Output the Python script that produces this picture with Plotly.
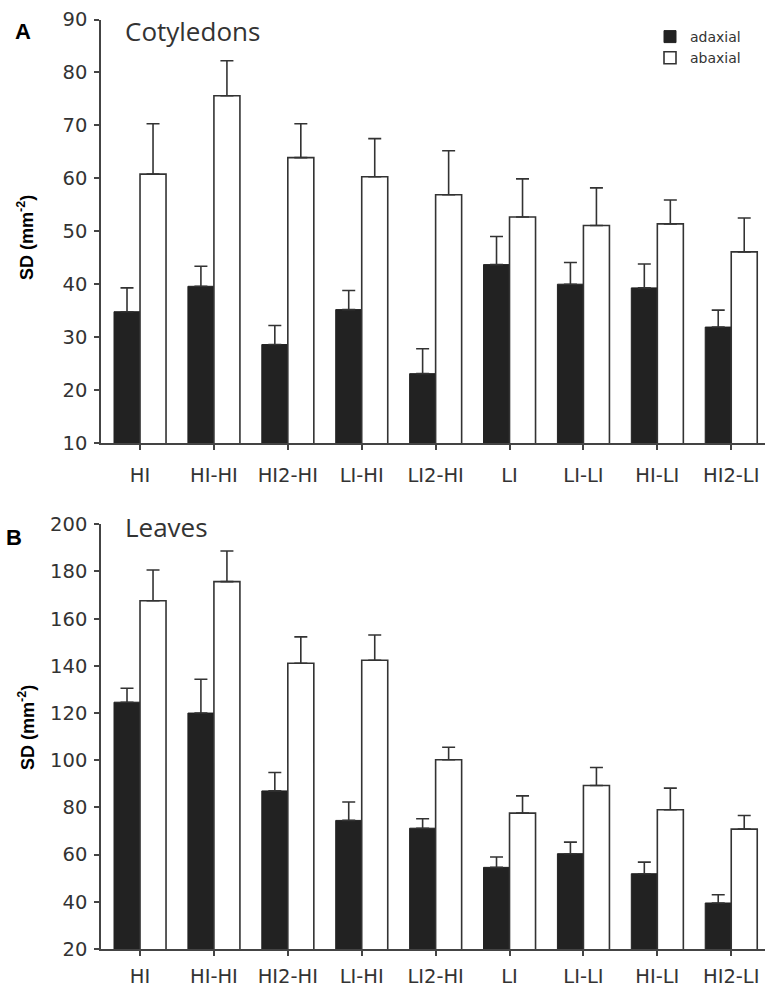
import plotly.graph_objects as go

categories = ["HI", "HI-HI", "HI2-HI", "LI-HI", "LI2-HI", "LI", "LI-LI", "HI-LI", "HI2-LI"]

cot_adaxial = [34.8, 39.6, 28.6, 35.2, 23.1, 43.7, 40.0, 39.3, 31.9]
cot_adaxial_err = [4.5, 3.8, 3.6, 3.6, 4.7, 5.3, 4.1, 4.5, 3.2]
cot_abaxial = [60.8, 75.6, 63.9, 60.3, 56.9, 52.7, 51.1, 51.4, 46.1]
cot_abaxial_err = [9.5, 6.6, 6.4, 7.2, 8.3, 7.2, 7.1, 4.5, 6.4]

leaf_adaxial = [124.6, 120.0, 87.0, 74.5, 71.2, 54.6, 60.4, 51.9, 39.5]
leaf_adaxial_err = [5.9, 14.3, 7.8, 7.8, 4.0, 4.4, 4.9, 4.9, 3.5]
leaf_abaxial = [167.6, 175.7, 141.1, 142.4, 100.2, 77.6, 89.3, 79.0, 70.8]
leaf_abaxial_err = [13.0, 13.0, 11.2, 10.7, 5.3, 7.3, 7.6, 9.2, 5.8]

cot_ticks = [10, 20, 30, 40, 50, 60, 70, 80, 90]
leaf_ticks = [20, 40, 60, 80, 100, 120, 140, 160, 180, 200]

DARK = "#222222"
AX = "#444444"
TXT = "#333333"

def err(arr):
    return dict(type="data", array=arr, arrayminus=[0] * len(arr), symmetric=False,
                color=TXT, thickness=1.6, width=6.5)

fig = go.Figure()
fig.add_trace(go.Bar(x=categories, y=cot_adaxial, name="adaxial", error_y=err(cot_adaxial_err),
                     marker=dict(color=DARK, line=dict(color=DARK, width=1)),
                     xaxis="x", yaxis="y", legendgroup="ad"))
fig.add_trace(go.Bar(x=categories, y=cot_abaxial, name="abaxial", error_y=err(cot_abaxial_err),
                     marker=dict(color="white", line=dict(color=TXT, width=1.6)),
                     xaxis="x", yaxis="y", legendgroup="ab"))
fig.add_trace(go.Bar(x=categories, y=leaf_adaxial, name="adaxial", error_y=err(leaf_adaxial_err),
                     marker=dict(color=DARK, line=dict(color=DARK, width=1)),
                     xaxis="x2", yaxis="y2", showlegend=False, legendgroup="ad"))
fig.add_trace(go.Bar(x=categories, y=leaf_abaxial, name="abaxial", error_y=err(leaf_abaxial_err),
                     marker=dict(color="white", line=dict(color=TXT, width=1.6)),
                     xaxis="x2", yaxis="y2", showlegend=False, legendgroup="ab"))

H = 991.0
W = 765.0
xdom = [101 / W, 1.0]
xrange_ = [-0.528, 8.457]
tickfont = dict(family="DejaVu Sans", size=19.5, color=TXT)

common_x = dict(domain=xdom, range=xrange_, showline=True, linecolor=AX, linewidth=1.6,
                ticks="outside", ticklen=5, tickwidth=1.6, tickcolor=AX, tickfont=tickfont,
                showgrid=False, zeroline=False, automargin=False)
common_y = dict(showline=True, linecolor=AX, linewidth=1.6, ticks="outside", ticklen=5,
                tickwidth=1.6, tickcolor=AX, tickfont=tickfont, showgrid=False, zeroline=False,
                automargin=False, ticklabelstandoff=3)

fig.update_layout(
    width=765, height=991,
    margin=dict(l=0, r=0, t=0, b=0, autoexpand=False),
    paper_bgcolor="white", plot_bgcolor="white",
    barmode="group", bargap=0.296, bargroupgap=0,
    xaxis=dict(anchor="y", ticklabelstandoff=9, **common_x),
    xaxis2=dict(anchor="y2", ticklabelstandoff=4, **common_x),
    yaxis=dict(anchor="x", domain=[(H - 443) / H, (H - 19.5) / H], range=[10, 90],
               tickvals=cot_ticks, **common_y),
    yaxis2=dict(anchor="x2", domain=[(H - 949) / H, (H - 524.3) / H], range=[20, 200],
                tickvals=leaf_ticks, **common_y),
    legend=dict(x=650 / W, y=1 - 21 / H, xanchor="left", yanchor="top",
                font=dict(family="DejaVu Sans", size=14, color=TXT),
                bgcolor="rgba(0,0,0,0)", tracegroupgap=0, itemwidth=30),
    showlegend=True,
)

ann = [
    dict(text="Cotyledons", x=123 / W, y=1 - 31 / H, xanchor="left", yanchor="middle",
         font=dict(family="Open Sans", size=26, color=TXT)),
    dict(text="Leaves", x=123 / W, y=1 - 527 / H, xanchor="left", yanchor="middle",
         font=dict(family="Open Sans", size=26, color=TXT)),
    dict(text="<b>A</b>", x=13 / W, y=1 - 32 / H, xanchor="left", yanchor="middle",
         font=dict(family="Liberation Sans", size=22, color="black")),
    dict(text="<b>B</b>", x=4 / W, y=1 - 537 / H, xanchor="left", yanchor="middle",
         font=dict(family="Liberation Sans", size=22, color="black")),
    dict(text="<b>SD (mm<sup>-2</sup>)</b>", x=26 / W, y=1 - 237 / H, xanchor="center",
         yanchor="middle", textangle=-90,
         font=dict(family="Liberation Sans", size=18, color="black")),
    dict(text="<b>SD (mm<sup>-2</sup>)</b>", x=26 / W, y=1 - 727 / H, xanchor="center",
         yanchor="middle", textangle=-90,
         font=dict(family="Liberation Sans", size=18, color="black")),
]
for a in ann:
    a.update(xref="paper", yref="paper", showarrow=False)
fig.update_layout(annotations=ann)

fig.write_html("out.html")
